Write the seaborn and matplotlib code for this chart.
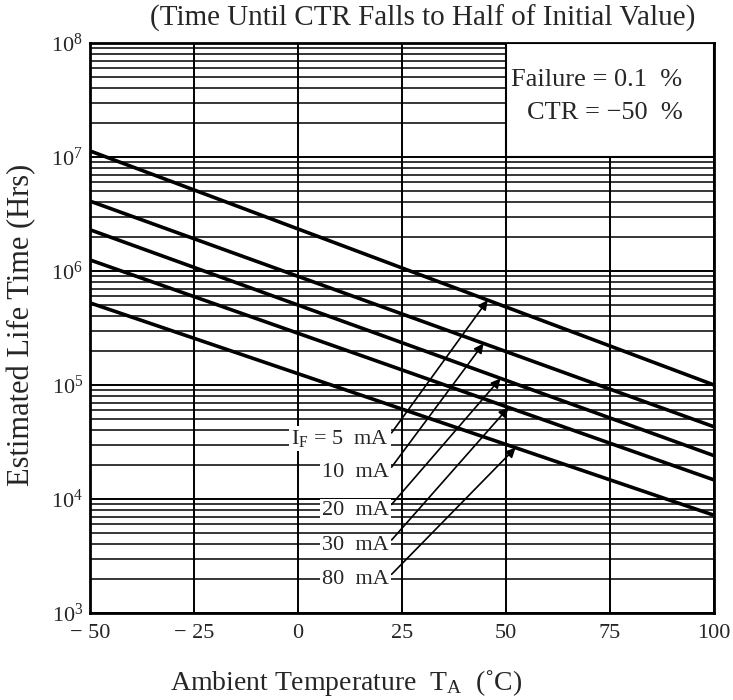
import numpy as np
import pandas as pd
import seaborn as sns
import matplotlib.pyplot as plt
from matplotlib.patches import Rectangle
from matplotlib.ticker import LogLocator, LogFormatterSciNotation

# data
temps = [-50, 100]
life_5ma = [1.13e7, 1.0e5]
life_10ma = [4.1e6, 4.3e4]
life_20ma = [2.3e6, 2.4e4]
life_30ma = [1.25e6, 1.47e4]
life_80ma = [5.25e5, 7.2e3]
currents = ["5 mA", "10 mA", "20 mA", "30 mA", "80 mA"]
label_texts = [r"I$_{\mathregular{F}}$ = 5  mA", "10  mA", "20  mA", "30  mA", "80  mA"]
label_y = [3.4e4, 1.7e4, 8.0e3, 3.9e3, 1.95e3]
arrow_x = [45.6, 44.6, 48.7, 50.6, 52.3]
x_ticks = [-50, -25, 0, 25, 50, 75, 100]
x_ticklabels = ["\u2212 50", "\u2212 25", "0", "25", "50", "75", "100"]

sns.set_style("white")
plt.rcParams['font.family'] = ['Liberation Serif', 'DejaVu Serif']
plt.rcParams['mathtext.fontset'] = 'custom'
plt.rcParams['mathtext.rm'] = 'Liberation Serif'
plt.rcParams['mathtext.it'] = 'Liberation Serif:italic'

all_life = [life_5ma, life_10ma, life_20ma, life_30ma, life_80ma]
rows = []
for cur, vals in zip(currents, all_life):
    for t, v in zip(temps, vals):
        rows.append({"temp": t, "life": v, "current": cur})
df = pd.DataFrame(rows)

fig = plt.figure(figsize=(7.33, 7.0), dpi=100)
ax = fig.add_axes([0.1228, 0.1243, 0.8513, 0.8143])

sns.lineplot(data=df, x="temp", y="life", hue="current",
             palette={c: "black" for c in currents}, linewidth=2.6,
             legend=False, ax=ax, zorder=4)

ax.set_yscale("log")
ax.set_xlim(-50, 100)
ax.set_ylim(1e3, 1e8)
ax.set_xticks(x_ticks)
ax.set_xticklabels(x_ticklabels)
ax.yaxis.set_major_locator(LogLocator(base=10))
ax.yaxis.set_major_formatter(LogFormatterSciNotation())
ax.yaxis.set_minor_locator(LogLocator(base=10, subs=np.arange(2, 10)))
ax.yaxis.set_minor_formatter(plt.NullFormatter())
ax.grid(True, which="major", axis="both", color="black", linewidth=1.4)
ax.grid(True, which="minor", axis="y", color="black", linewidth=1.1)
ax.tick_params(axis="x", which="both", length=0, labelsize=16, pad=8)
ax.tick_params(axis="y", which="both", length=0, labelsize=16, pad=5)
ax.set_xlabel("")
ax.set_ylabel("")
for s in ax.spines.values():
    s.set_linewidth(2)
    s.set_color("black")

# box top right
box = Rectangle((50, 1e7), 50, 9e7, facecolor="white", edgecolor="black",
                linewidth=1.5, zorder=3)
ax.add_patch(box)
ax.text(0.8125, 0.935, "Failure = 0.1  %", transform=ax.transAxes,
        ha="center", va="center", fontsize=19, zorder=5)
ax.text(0.825, 0.877, "CTR = \u221250  %", transform=ax.transAxes,
        ha="center", va="center", fontsize=19, zorder=5)

# current labels with arrows to the lines
for txt, ly, ax_x, vals in zip(label_texts, label_y, arrow_x, all_life):
    tip = 10 ** np.interp(ax_x, temps, np.log10(vals))
    ax.annotate("", xy=(ax_x, tip), xytext=(22.5, ly * 1.12),
                arrowprops=dict(arrowstyle="-|>", color="black", lw=1.2,
                                mutation_scale=14, shrinkA=0, shrinkB=0),
                zorder=5)
    ax.text(21.8, ly, txt, ha="right", va="center", fontsize=16, zorder=5,
            bbox=dict(facecolor="white", edgecolor="none", pad=1.5))

fig.text(0.472, 0.024, "Ambient Temperature  T$_{\\mathregular{A}}$  (\u02daC)",
         ha="center", va="center", fontsize=20)
fig.text(0.030, 0.536, "Estimated Life Time (Hrs)", rotation=90,
         ha="center", va="center", fontsize=22)
fig.text(0.576, 0.974, "(Time Until CTR Falls to Half of Initial Value)",
         ha="center", va="center", fontsize=21)

fig.savefig("out.png", dpi=100)
